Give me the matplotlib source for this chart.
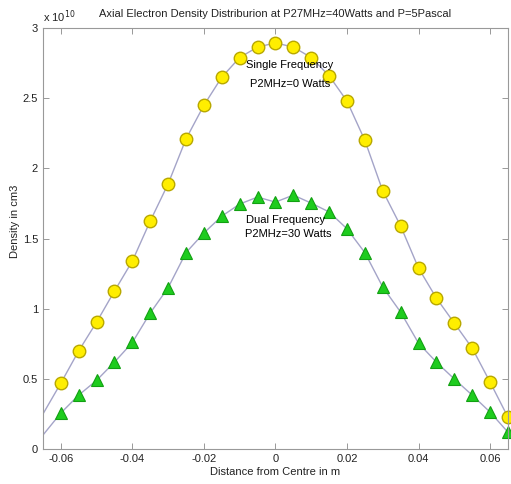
import matplotlib
matplotlib.use('Agg')
import matplotlib.pyplot as plt

plt.rcParams['font.family'] = ['Liberation Sans', 'DejaVu Sans']

# distance from centre (m)
x_line = [-0.065, -0.06, -0.055, -0.05, -0.045, -0.04, -0.035, -0.03, -0.025,
          -0.02, -0.015, -0.01, -0.005, 0.0, 0.005, 0.01, 0.015, 0.02, 0.025,
          0.03, 0.035, 0.04, 0.045, 0.05, 0.055, 0.06, 0.065]

# density, units of 1e10 cm^-3
single = [0.25, 0.47, 0.70, 0.905, 1.126, 1.34, 1.625, 1.89, 2.21, 2.45, 2.65,
          2.79, 2.865, 2.894, 2.865, 2.79, 2.66, 2.48, 2.20, 1.84, 1.59,
          1.29, 1.076, 0.898, 0.72, 0.478, 0.228]
dual = [0.10, 0.257, 0.385, 0.49, 0.62, 0.76, 0.97, 1.15, 1.40, 1.54, 1.66,
        1.746, 1.796, 1.76, 1.81, 1.753, 1.69, 1.57, 1.40, 1.155, 0.976,
        0.755, 0.62, 0.50, 0.385, 0.264, 0.121]

xticks = [-0.06, -0.04, -0.02, 0, 0.02, 0.04, 0.06]
xticklabels = ['-0.06', '-0.04', '-0.02', '0', '0.02', '0.04', '0.06']
yticks = [0, 0.5, 1, 1.5, 2, 2.5, 3]
yticklabels = ['0', '0.5', '1', '1.5', '2', '2.5', '3']

fig = plt.figure(figsize=(5.11, 4.84), dpi=100)
ax = fig.add_axes([0.084, 0.072, 0.910, 0.870])

line_col = '#a4a4c8'
ax.plot(x_line, single, color=line_col, lw=1.0)
ax.plot(x_line, dual, color=line_col, lw=1.0)
ax.plot(x_line[1:], single[1:], 'o', ms=9, mfc='#ffee00', mec='#b8a800', mew=1.0,
        clip_on=False)
ax.plot(x_line[1:], dual[1:], '^', ms=9, mfc='#1ecc1e', mec='#12a012', mew=0.8,
        clip_on=False)

ax.text(0.004, 2.74, 'Single Frequency', ha='center', va='center', fontsize=8)
ax.text(0.004, 2.60, 'P2MHz=0 Watts', ha='center', va='center', fontsize=8)
ax.text(0.0028, 1.632, 'Dual Frequency', ha='center', va='center', fontsize=8)
ax.text(0.0035, 1.532, 'P2MHz=30 Watts', ha='center', va='center', fontsize=8)

ax.set_xlim(-0.065, 0.065)
ax.set_ylim(0, 3)
ax.set_xticks(xticks)
ax.set_xticklabels(xticklabels)
ax.set_yticks(yticks)
ax.set_yticklabels(yticklabels)
ax.tick_params(direction='in', top=True, right=True, length=4, width=0.6,
               colors='#888888', labelcolor='#222222', labelsize=8)
for s in ax.spines.values():
    s.set_color('#999999')
    s.set_linewidth(0.8)

ax.text(0.0, 1.008, r'x 10$^{10}$', transform=ax.transAxes, fontsize=8,
        ha='left', va='bottom', color='#222222')
ax.set_title('Axial Electron Density Distriburion at P27MHz=40Watts and P=5Pascal',
             fontsize=8, pad=8, color='#222222')
ax.set_xlabel('Distance from Centre in m', fontsize=8, labelpad=2, color='#222222')
ax.set_ylabel('Density in cm3', fontsize=8, color='#222222')
ax.yaxis.set_label_coords(-0.05, 0.54)

fig.savefig('out.png', dpi=100)
